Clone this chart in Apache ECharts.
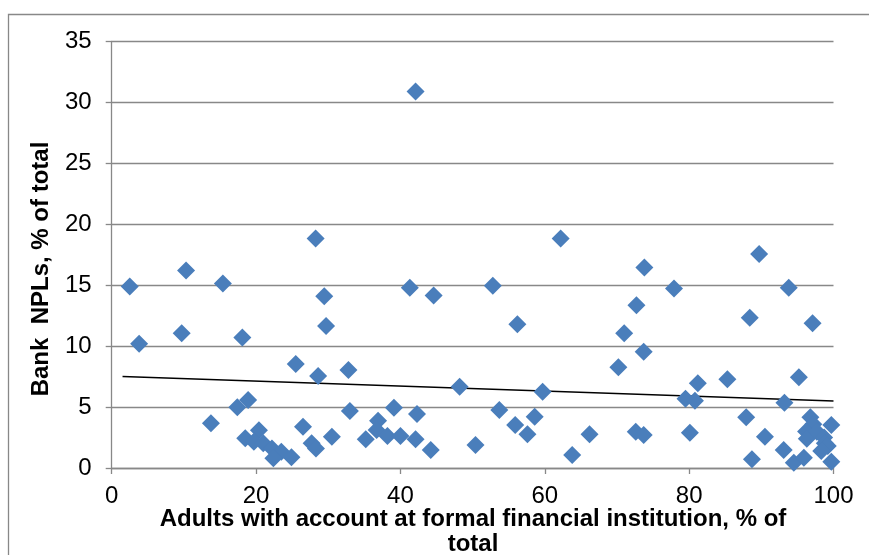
<!DOCTYPE html>
<html>
<head>
<meta charset="utf-8">
<script src="https://cdn.jsdelivr.net/npm/echarts@6/dist/echarts.min.js"></script>
<style>
html,body{margin:0;padding:0;background:#fff;}
#chart{width:869px;height:555px;}
</style>
</head>
<body>
<div id="chart"></div>
<script>
// Scatter points: [adults with account %, bank NPLs %]
var points = [
  [2.5,14.9],[3.8,10.2],[10.3,16.2],[9.7,11.05],[15.4,15.15],[18.1,10.7],[13.75,3.67],
  [25.5,8.53],[28.6,7.55],[28.25,18.84],[29.45,14.1],[29.7,11.65],[32.8,8.04],
  [17.4,4.98],[18.9,5.58],[18.5,2.44],[20.4,3.1],[19.7,2.16],[21.0,2.03],[22.2,1.6],
  [23.5,1.34],[22.4,0.79],[24.9,0.88],[26.5,3.39],[27.7,2.03],[28.3,1.6],[30.5,2.57],
  [42.1,30.9],[62.2,18.84],[41.3,14.8],[44.6,14.16],[52.8,14.96],[56.2,11.8],[48.2,6.67],
  [59.7,6.26],[33.0,4.68],[35.2,2.35],[36.9,3.88],[36.7,3.12],[38.2,2.62],[39.1,4.95],
  [40.0,2.62],[42.3,4.43],[42.1,2.35],[44.2,1.48],[50.4,1.89],[53.7,4.76],[55.9,3.53],
  [57.6,2.76],[58.6,4.21],[63.8,1.07],
  [73.8,16.46],[77.9,14.74],[72.7,13.35],[71.0,11.05],[73.7,9.54],[70.2,8.26],[81.2,6.95],
  [79.5,5.69],[80.8,5.52],[85.3,7.28],[89.7,17.56],[88.4,12.33],[93.8,14.79],[97.1,11.87],
  [95.2,7.44],[93.2,5.36],[87.9,4.16],[66.2,2.76],[72.6,2.98],[73.7,2.71],[80.1,2.9],
  [90.5,2.57],[88.7,0.71],[93.1,1.48],[94.5,0.43],[95.9,0.85],[96.8,4.16],[97.2,3.6],
  [96.2,3.0],[96.3,2.4],[97.7,2.98],[99.7,3.53],[98.7,2.5],[98.8,2.03],[99.2,1.8],
  [98.3,1.4],[99.7,0.52]
];
// Linear trend line endpoints
var trend = [[1.5,7.5],[100,5.5]];
var xTicks = [0,20,40,60,80,100];
var yTicks = [0,5,10,15,20,25,30,35];
var xTitle = 'Adults with account at formal financial institution, % of\ntotal';
var yTitle = 'Bank  NPLs, % of total';

var chart = echarts.init(document.getElementById('chart'));
var font = 'Liberation Sans, Arial, sans-serif';
chart.setOption({
  animation: false,
  backgroundColor: '#fff',
  graphic: [
    {type:'rect', shape:{x:8.5,y:14.5,width:900,height:600}, style:{fill:'none',stroke:'#888',lineWidth:1.3}, z:-1},
    {type:'text', x:41, y:269, rotation:Math.PI/2,
     style:{text:yTitle, font:'bold 24px ' + font, fill:'#000', textAlign:'center', textVerticalAlign:'middle'}},
    {type:'text', x:473, y:531.5,
     style:{text:xTitle, font:'bold 24px ' + font, fill:'#000', textAlign:'center', textVerticalAlign:'middle', lineHeight:25}}
  ],
  grid: {left:111.7, right:35.5, top:41.5, bottom:87, containLabel:false, outerBoundsMode:'none'},
  xAxis: {
    type:'value', min:xTicks[0], max:xTicks[xTicks.length-1], interval:20,
    axisLine:{show:true, onZero:false, lineStyle:{color:'#888', width:1.3}},
    axisTick:{show:true, inside:false, length:6, lineStyle:{color:'#888', width:1.3}},
    axisLabel:{fontFamily:font, fontSize:24, color:'#000', margin:16},
    splitLine:{show:false}
  },
  yAxis: {
    type:'value', min:yTicks[0], max:yTicks[yTicks.length-1], interval:5,
    axisLine:{show:true, lineStyle:{color:'#888', width:1.3}},
    axisTick:{show:true, inside:false, length:6, lineStyle:{color:'#888', width:1.3}},
    axisLabel:{fontFamily:font, fontSize:24, color:'#000', margin:20},
    splitLine:{show:true, lineStyle:{color:'#888', width:1.3}}
  },
  series: [
    {type:'line', data:trend, symbol:'none', lineStyle:{color:'#000', width:1.5}, z:2, silent:true},
    {type:'scatter', data:points, symbol:'diamond', symbolSize:18,
     itemStyle:{color:'#4A7EBB', opacity:1}, z:3}
  ]
});
</script>
</body>
</html>
